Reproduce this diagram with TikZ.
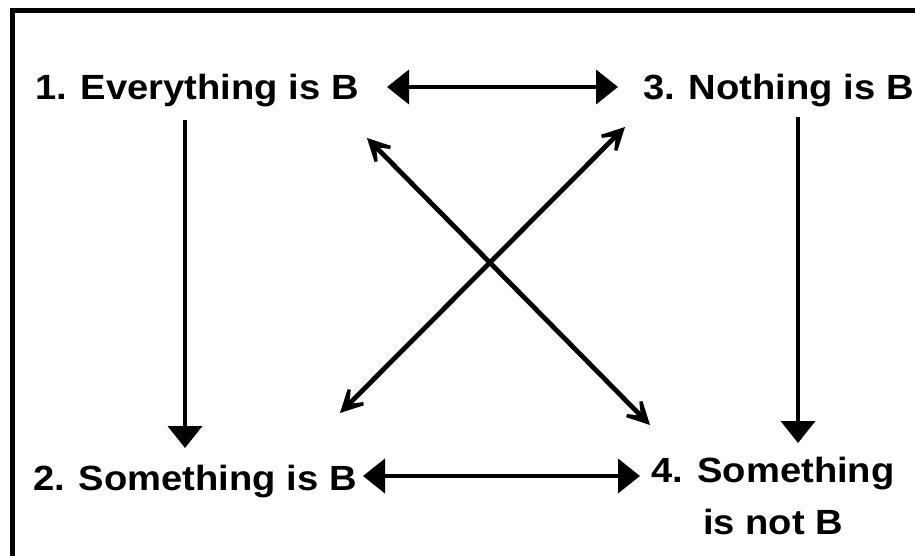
\documentclass[tikz,border=0pt]{standalone}
\usepackage{fontspec}
\usetikzlibrary{arrows.meta,calc}
\newfontfamily\labfont{Liberation Sans}[FakeStretch=1.09]
\tikzset{
  lbl/.style={inner sep=0pt, outer sep=0pt, font=\labfont\bfseries\fontsize{35}{52}\selectfont, text=black},
  sarr/.style={line width=4pt, -{Triangle[length=22pt,width=34pt]}},
  darr/.style={line width=4pt, {Triangle[length=22pt,width=34pt]}-{Triangle[length=22pt,width=34pt]}},
  xarr/.style={line width=4.8pt, {Stealth[length=37pt,width=38pt,inset=24pt]}-{Stealth[length=37pt,width=38pt,inset=24pt]}}
}
\begin{document}
\begin{tikzpicture}[x=1pt,y=-1pt]
\useasboundingbox (0,0) rectangle (915,556);
\fill[white] (0,0) rectangle (915,556);
\draw[line width=5pt, line join=miter] (12,560) -- (12,11) -- (920,11);
\node[lbl, anchor=base west] (n1) at (35,100) {1. Everything is B};
\node[lbl, anchor=base west] (n3) at (643,100) {3. Nothing is B};
\node[lbl, anchor=base west] (n2) at (33,490) {2. Something is B};
\node[lbl, anchor=north, align=center] (n4) at (773,457) {4. Something\\is not B};
% horizontal
\draw[darr] ($(n1.base west)+(352,-13)$) -- ($(n3.base west)+(-25,-13)$);
\draw[darr] ($(n2.base west)+(330,-14)$) -- ($(n4.north)+(-133,19)$);
% vertical
\draw[sarr] ($(n1.base west)+(150,20)$) -- ($(n2.base west)+(152,-42)$);
\draw[sarr] ($(n3.base west)+(155,17)$) -- ($(n4.north)+(25,-14)$);
% diagonals
\draw[xarr] ($(n1.base west)+(332,38)$) -- ($(n4.north)+(-123,-32)$);
\draw[xarr] ($(n3.base west)+(-18,27)$) -- ($(n2.base west)+(307,-77)$);
\end{tikzpicture}
\end{document}
